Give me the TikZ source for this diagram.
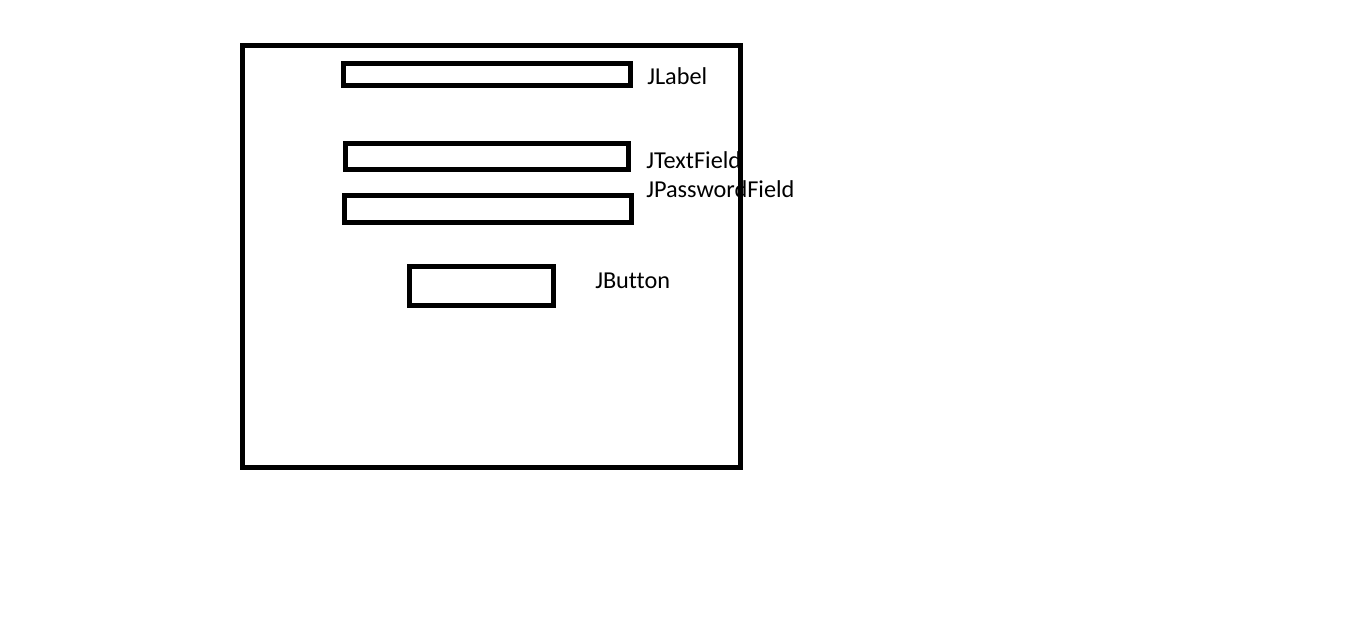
\documentclass[tikz,border=0pt]{standalone}
\usepackage{fontspec}
\setmainfont{Carlito}[Ligatures=NoCommon]
\begin{document}
\begin{tikzpicture}[x=0.75pt,y=-0.75pt,
  box/.style={draw=black,line width=3.75pt},
  lbl/.style={anchor=base west,inner sep=0pt,font=\fontsize{18.2}{20}\selectfont}]
\useasboundingbox (0,0) rectangle (1360,623);
\node[lbl] (tJLabel) at (647,85) {JLabel};
\node[lbl] (tJText) at (646,169) {JTextField};
\node[lbl] (tJPass) at (646,198) {JPasswordField};
\node[lbl] (tJButton) at (595,289) {JButton};
\draw[box] (242.5,45.5) rectangle (740.5,467.5);
\draw[box] (343.5,63.5) rectangle (630,86);
\draw[box] (345.5,143.5) rectangle (628.3,170);
\draw[box] (344.5,195.5) rectangle (631,223);
\draw[box] (409.8,266.5) rectangle (553.2,306);
\end{tikzpicture}
\end{document}
